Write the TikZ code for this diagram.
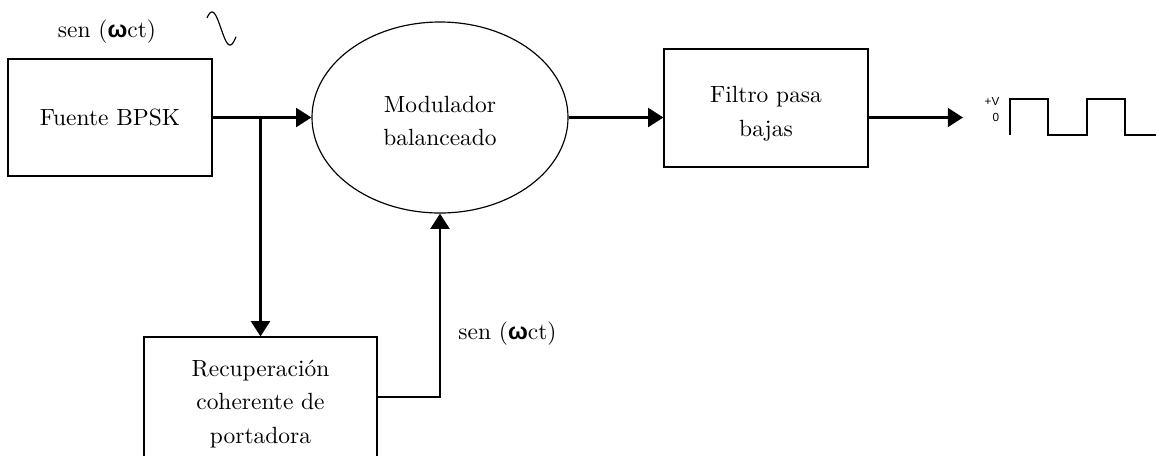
\documentclass[tikz,border=0pt]{standalone}
\usepackage{fontspec}
\usetikzlibrary{shapes.geometric,arrows.meta}
\newfontfamily\arialfont{Liberation Sans}
\newcommand{\omegab}{{\arialfont\bfseries ω}}

\begin{document}
\begin{tikzpicture}[x=0.015cm, y=-0.015cm,
  bloque/.style={draw, line width=0.5pt, align=center, inner sep=0pt, font=\linespread{1.2}\selectfont},
  texto/.style={align=center, inner sep=0pt, font=\linespread{1.2}\selectfont},
  flecha/.style={line width=1.2pt, -{Triangle[length=6.5pt, width=8pt]}},
  rotulo/.style={font=\arialfont\fontsize{5}{6}\selectfont, inner sep=0pt}]
\clip (0,0) rectangle (1156,455);
\node[bloque, minimum width=3.06cm, minimum height=1.755cm] (fuente) at (110,117.5) {Fuente BPSK};
\node[bloque, ellipse, minimum width=3.84cm, minimum height=2.865cm] (mod) at (440,117.5) {};
\node[texto] (modtxt) at (440,121) {Modulador\\balanceado};
\node[bloque, minimum width=3.06cm, minimum height=1.77cm] (filtro) at (766,108) {};
\node[texto] (filtrotxt) at (766,114) {Filtro pasa\\bajas};
\node[bloque, minimum width=3.495cm, minimum height=2.01cm] (rec) at (260.5,404) {Recuperación\\coherente de\\portadora};
\node (sen1) at (107,32) {sen (\omegab ct)};
\node (sen2) at (507.5,334) {sen (\omegab ct)};
\coordinate (union) at (fuente.east -| rec.north);
\coordinate (salida) at (963,117.5);
\draw[flecha] (fuente.east) -- (mod.west);
\draw[flecha] (union) -- (rec.north);
\draw[flecha] ([yshift=0.105cm]rec.east) -| (mod.south);
\draw[flecha] (mod.east) -- (mod.east -| filtro.west);
\draw[flecha] (mod.east -| filtro.east) -- (salida);
\draw[line width=0.5pt] plot[domain=40:330, samples=40] ({212+(\x-90)/10}, {28.5-16.5*sin(\x)});
\node[rotulo] (masv) at (992,101) {+V};
\node[rotulo] (cero) at (996,117.5) {0};
\draw[line width=0.9pt] (1010,135) -- (1010,99) -- (1048,99) -- (1048,135) -- (1087,135) -- (1087,99) -- (1125,99) -- (1125,135) -- (1156,135);
\end{tikzpicture}
\end{document}
